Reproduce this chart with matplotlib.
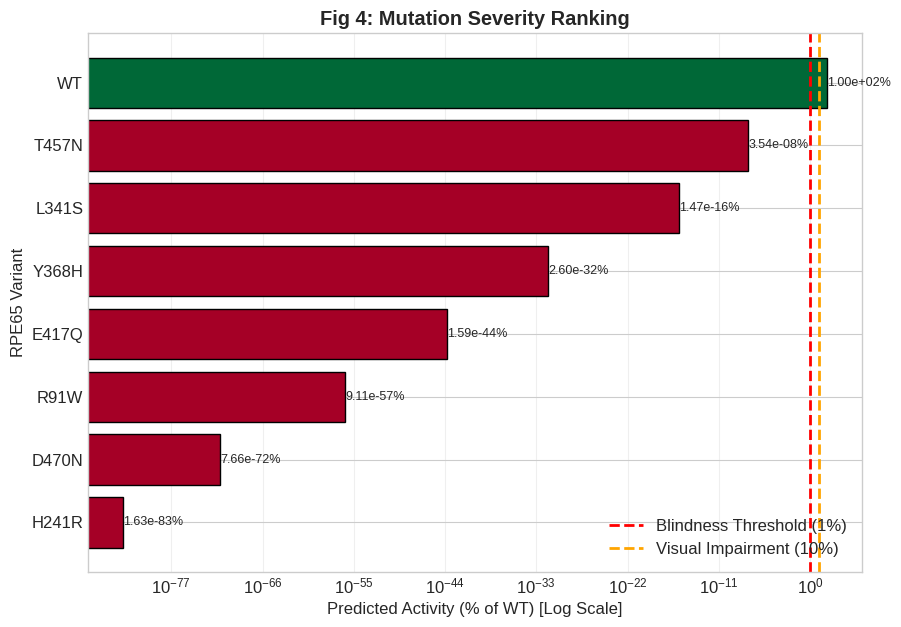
import matplotlib
matplotlib.use("Agg")
import matplotlib.pyplot as plt
import numpy as np

variants = ["WT", "T457N", "L341S", "Y368H", "E417Q", "R91W", "D470N", "H241R"]
activity = [1.00e+02, 3.54e-08, 1.47e-16, 2.60e-32, 1.59e-44, 9.11e-57, 7.66e-72, 1.63e-83]
bar_colors = ["#006837", "#a50026", "#a50026", "#a50026", "#a50026", "#a50026", "#a50026", "#a50026"]
blind_threshold = 1
impair_threshold = 10

plt.style.use("seaborn-v0_8-whitegrid")
fig = plt.figure(figsize=(9.01, 6.27), dpi=100)
ax = fig.add_axes([88/901, 55/627, (862-88)/901, (572-33)/627])

ypos = np.arange(len(variants))[::-1]
ax.barh(ypos, activity, color=bar_colors, edgecolor="black", linewidth=1, height=0.8)
ax.set_xscale("log")
for y, v in zip(ypos, activity):
    ax.text(v, y, f"{v:.2e}%", va="center", ha="left", fontsize=9, color=".15")

ax.axvline(blind_threshold, color="red", linestyle="--", linewidth=2, label="Blindness Threshold (1%)")
ax.axvline(impair_threshold, color="orange", linestyle="--", linewidth=2, label="Visual Impairment (10%)")

ax.set_yticks(ypos)
ax.set_yticklabels(variants, fontsize=12)
ax.set_xticks([10.0**e for e in range(-77, 1, 11)])
ax.tick_params(axis="x", labelsize=12)
ax.grid(True, axis="x", alpha=0.3)
ax.set_xlabel("Predicted Activity (% of WT) [Log Scale]", fontsize=12)
ax.set_ylabel("RPE65 Variant", fontsize=12)
ax.set_title("Fig 4: Mutation Severity Ranking", fontsize=14.4, fontweight="bold")
ax.legend(loc="lower right", fontsize=12)

fig.savefig("out.png", dpi=100)
